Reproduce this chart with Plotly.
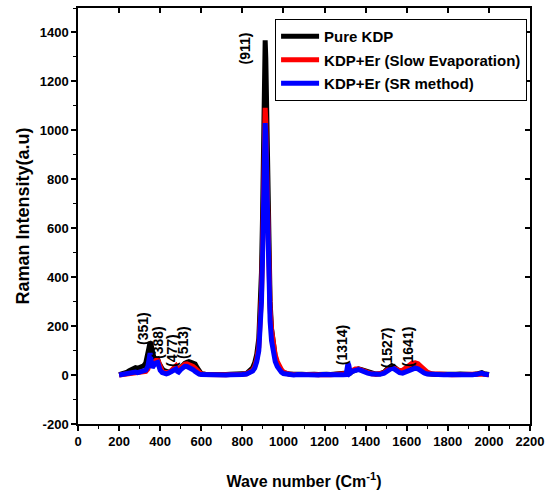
import plotly.graph_objects as go

# Wave number grid (cm^-1)
wavenumber = [200, 210, 220, 230, 240, 250, 260, 270, 280, 290,
              300, 310, 320, 330, 340, 345, 351, 356, 362, 368,
              374, 380, 388, 394, 400, 410, 420, 430, 440, 450,
              460, 470, 477, 484, 490, 500, 510, 520, 530, 540,
              550, 560, 570, 580, 590, 600, 620, 640, 660, 680,
              700, 720, 740, 760, 780, 800, 820, 835, 850, 860,
              870, 880, 887, 893, 898, 902, 905, 908, 911, 914,
              917, 920, 924, 929, 935, 942, 950, 960, 970, 980,
              990, 1000, 1015, 1030, 1050, 1070, 1090, 1110, 1130, 1150,
              1170, 1190, 1210, 1230, 1250, 1270, 1290, 1305, 1310, 1314,
              1318, 1325, 1335, 1350, 1365, 1380, 1395, 1410, 1430, 1450,
              1470, 1490, 1505, 1518, 1527, 1537, 1550, 1565, 1580, 1595,
              1610, 1625, 1641, 1655, 1670, 1685, 1700, 1720, 1740, 1760,
              1780, 1800, 1820, 1840, 1860, 1880, 1900, 1920, 1940, 1955,
              1965, 1975, 1985, 2000]

pure_kdp = [2, 4, 3, 8, 12, 18, 22, 25, 30, 28,
            33, 35, 38, 50, 80, 110, 135, 125, 95, 70,
            60, 62, 65, 50, 40, 25, 18, 14, 12, 15,
            20, 25, 28, 22, 20, 30, 40, 48, 52, 55,
            52, 50, 45, 30, 15, 6, 3, 2, 3, 2,
            3, 2, 3, 2, 4, 5, 6, 15, 30, 50,
            85, 150, 260, 420, 640, 900, 1110, 1290, 1368, 1295,
            1120, 920, 660, 450, 300, 190, 120, 75, 48, 30,
            18, 10, 6, 4, 3, 5, 3, 2, 4, 3,
            2, 4, 3, 2, 3, 4, 3, 4, 8, 12,
            10, 8, 15, 22, 25, 22, 18, 12, 6, 4,
            5, 12, 25, 35, 38, 34, 25, 15, 12, 18,
            25, 35, 40, 35, 22, 12, 6, 3, 2, 3,
            2, 3, 2, 3, 4, 2, 3, 2, 4, 8,
            10, 6, 4, 2]

kdp_er_slow = [0, 1, 2, 1, 3, 4, 5, 6, 8, 7,
               9, 10, 12, 15, 25, 40, 58, 50, 45, 52,
               58, 60, 62, 45, 30, 15, 10, 8, 10, 15,
               25, 35, 38, 28, 22, 30, 40, 45, 46, 44,
               40, 35, 28, 18, 10, 4, 2, 1, 2, 1,
               2, 1, 2, 1, 2, 3, 5, 10, 20, 35,
               65, 115, 200, 330, 500, 710, 880, 1030, 1092, 1040,
               900, 745, 550, 390, 270, 185, 125, 82, 55, 35,
               22, 12, 6, 3, 2, 3, 2, 1, 3, 2,
               1, 3, 2, 1, 2, 3, 2, 3, 6, 10,
               10, 12, 18, 25, 25, 20, 15, 10, 5, 3,
               4, 10, 20, 28, 30, 28, 22, 18, 20, 30,
               40, 48, 50, 46, 35, 22, 12, 5, 3, 2,
               1, 2, 1, 2, 3, 1, 2, 1, 3, 5,
               6, 4, 2, 1]

kdp_er_sr = [0, 2, 1, 3, 4, 6, 8, 10, 12, 10,
             12, 14, 15, 20, 35, 60, 90, 60, 30, 38,
             45, 50, 52, 35, 20, 10, 6, 5, 8, 12,
             18, 22, 25, 15, 12, 22, 32, 36, 35, 32,
             28, 22, 15, 8, 4, 2, 1, 0, 1, 0,
             1, 0, 1, 0, 1, 2, 4, 8, 16, 28,
             55, 100, 175, 300, 470, 670, 840, 990, 1030, 980,
             840, 680, 490, 330, 220, 140, 90, 55, 35, 20,
             12, 6, 3, 1, 0, 2, 1, 0, 2, 1,
             0, 2, 1, 0, 1, 2, 1, 2, 30, 48,
             40, 8, 15, 20, 22, 18, 12, 8, 4, 2,
             3, 8, 18, 25, 28, 26, 18, 10, 8, 14,
             20, 26, 28, 25, 15, 8, 4, 2, 1, 2,
             1, 2, 1, 2, 2, 1, 2, 1, 3, 6,
             8, 4, 2, 1]

series_names = ["Pure KDP", "KDP+Er (Slow Evaporation)", "KDP+Er (SR method)"]
series_colors = ["#000000", "#ff0000", "#0000ff"]

y_tickvals = [-200, 0, 200, 400, 600, 800, 1000, 1200, 1400]
y_ticktext = ["-200", "0", "200", "400", "600", "800", "1000", "1200", "1400"]

peak_labels = ["(911)", "(351)", "(388)", "(477)", "(513)", "(1314)", "(1527)", "(1641)"]
label_x = [813, 316, 389, 457, 511, 1285, 1504, 1606]
label_y = [1335, 192, 135, 102, 135, 122, 110, 114]

FONT = "Liberation Sans, Arial, sans-serif"

fig = go.Figure()
for i, (name, ys) in enumerate(zip(series_names, [pure_kdp, kdp_er_slow, kdp_er_sr])):
    fig.add_trace(go.Scatter(
        x=wavenumber, y=ys, mode="lines", name=name,
        line=dict(color=series_colors[i], width=5),
        legendgroup=f"g{i}",
    ))

# dummy trace for mirrored top/right axes
fig.add_trace(go.Scatter(x=[None], y=[None], xaxis="x2", yaxis="y2",
                         showlegend=False, hoverinfo="skip"))

for t, xv, yv in zip(peak_labels, label_x, label_y):
    fig.add_annotation(x=xv, y=yv, text=t, textangle=-90, showarrow=False,
                       font=dict(family=FONT, size=14, color="black", weight="bold"))

fig.update_layout(
    width=548, height=490,
    margin=dict(l=78, r=18, t=8, b=66),
    paper_bgcolor="white", plot_bgcolor="white",
    font=dict(family=FONT, color="black"),
    showlegend=True,
    legend=dict(x=0.436, y=0.9736, xanchor="left", yanchor="top",
                bordercolor="black", borderwidth=1, bgcolor="white",
                font=dict(family=FONT, size=15, color="black", weight="bold"),
                traceorder="grouped", tracegroupgap=1, itemwidth=38),
    xaxis=dict(range=[0, 2200], dtick=200, tick0=0, showgrid=False, zeroline=False,
               automargin=False,
               showline=True, linecolor="black", linewidth=1.5,
               ticks="outside", ticklen=5, tickwidth=1.5, tickcolor="black",
               minor=dict(dtick=100, ticks="outside", ticklen=3, tickcolor="black", tickwidth=1.2),
               tickfont=dict(family=FONT, size=13, color="black", weight="bold"),
               title=dict(text="Wave number (Cm<sup>-1</sup>)", standoff=27,
                          font=dict(family=FONT, size=16, color="black", weight="bold"))),
    yaxis=dict(range=[-200, 1500], tickmode="array", tickvals=y_tickvals, ticktext=y_ticktext,
               showgrid=False, zeroline=False, automargin=False,
               showline=True, linecolor="black", linewidth=1.5,
               ticks="outside", ticklen=5, tickwidth=1.5, tickcolor="black",
               minor=dict(dtick=100, tick0=0, ticks="outside", ticklen=3, tickcolor="black", tickwidth=1.2),
               tickfont=dict(family=FONT, size=13, color="black", weight="bold"),
               title=dict(text="Raman Intensity(a.u)", standoff=5,
                          font=dict(family=FONT, size=18, color="black", weight="bold"))),
    xaxis2=dict(range=[0, 2200], overlaying="x", side="top", dtick=200, tick0=0,
                showgrid=False, zeroline=False, showline=True, linecolor="black", linewidth=1.5,
                ticks="inside", ticklen=5, tickwidth=1.5, tickcolor="black",
                showticklabels=False, automargin=False),
    yaxis2=dict(range=[-200, 1500], overlaying="y", side="right", dtick=200, tick0=0,
                showgrid=False, zeroline=False, showline=True, linecolor="black", linewidth=1.5,
                ticks="inside", ticklen=5, tickwidth=1.5, tickcolor="black",
                showticklabels=False, automargin=False),
)

fig.write_html("out.html")
